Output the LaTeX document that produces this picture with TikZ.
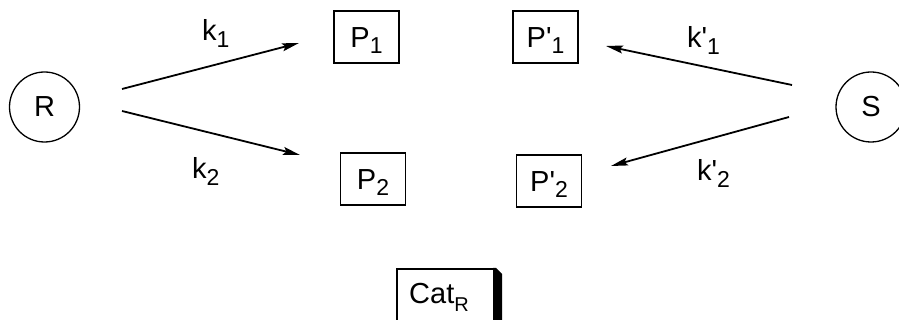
\documentclass[tikz,border=0pt]{standalone}
\usepackage{fontspec}
\setmainfont{Liberation Sans}
\usetikzlibrary{arrows.meta}
\newcommand\mysub[1]{\raisebox{-0.22em}{\fontsize{23}{23}\selectfont #1}}
\newcommand\myprime{\textquotesingle}
\begin{document}
\begin{tikzpicture}[x=1pt,y=-1pt,
  font=\fontsize{29}{29}\selectfont,
  agent/.style={draw, circle, line width=1.3pt, minimum size=70pt, inner sep=0pt},
  pbox/.style={draw, rectangle, line width=1.3pt, minimum width=65pt, minimum height=52pt, inner sep=0pt, text height=21pt, text depth=0pt},
  conn/.style={line width=1.8pt, -{Stealth[length=17pt,width=8pt,inset=3pt]}},
  lbl/.style={inner sep=0pt, anchor=base west}]
\useasboundingbox (0,0) rectangle (899,320);
\node[agent] (R) at (44.5,107) {R};
\node[agent] (S) at (871,107) {S};
\node[pbox] (P1) at (366.5,37) {P\mysub{1}};
\node[pbox] (P1p) at (545.5,37) {P\myprime\mysub{1}};
\node[pbox] (P2) at (373,179) {P\mysub{2}};
\node[pbox] (P2p) at (549,181) {P\myprime\mysub{2}};
\coordinate (r1) at (122,89);
\coordinate (r2) at (122,111);
\coordinate (e1) at (299,43);
\coordinate (e2) at (300,155);
\coordinate (s1) at (792,85);
\coordinate (s2) at (789,117);
\coordinate (f1) at (606,46);
\coordinate (f2) at (611,166);
\draw[conn] (r1) -- (e1);
\draw[conn] (r2) -- (e2);
\draw[conn] (s1) -- (f1);
\draw[conn] (s2) -- (f2);
\node[lbl] (k1) at (202,41) {k\mysub{1}};
\node[lbl] (k2) at (192,179) {k\mysub{2}};
\node[lbl] (k1p) at (687,48) {k\myprime\mysub{1}};
\node[lbl] (k2p) at (697,181) {k\myprime\mysub{2}};
\draw[line width=1.3pt] (397,330) -- (397,269) -- (495,269);
\fill (493,268) -- (496,268) -- (502,274) -- (502,330) -- (493,330) -- cycle;
\node[lbl] (cat) at (409,303) {Cat\raisebox{-0.28em}{\fontsize{20}{20}\selectfont R}};
\end{tikzpicture}
\end{document}
